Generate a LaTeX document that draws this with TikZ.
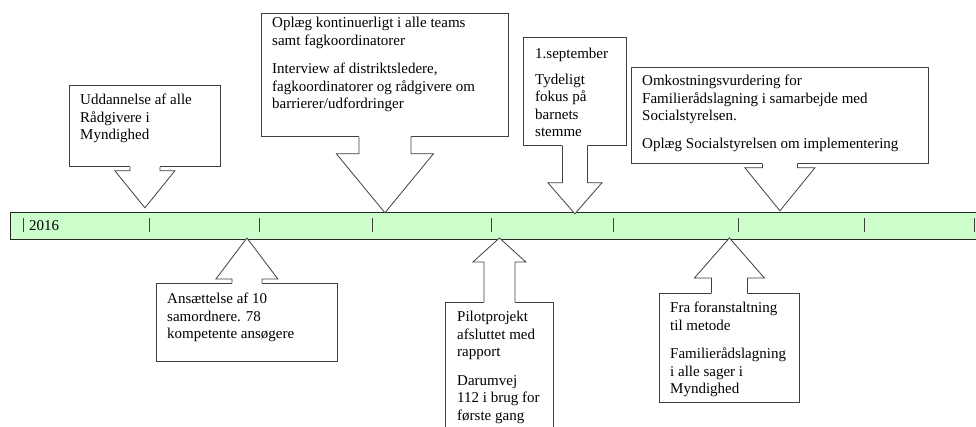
\documentclass[tikz,border=0pt]{standalone}
\usepackage{fontspec}
\setmainfont{Liberation Serif}
\definecolor{barfill}{HTML}{CCFFCC}
\definecolor{edge}{HTML}{404040}
% arrow below a box: node, neck half, shaft, head half, head length
\newcommand{\calldown}[5]{%
  \fill[white] ([xshift=-#2pt]#1.south) -- ++(0,-1.5) -- ++(2*#2,0) -- ++(0,1.5+#3)
    -- ++(#4-#2,0) -- ++(-#4,#5) -- ++(-#4,-#5) -- ++(#4-#2,0) -- cycle;
  \draw[callline] ([xshift=-#2pt]#1.south) -- ++(0,#3) -- ++(#2-#4,0)
    -- ++(#4,#5) coordinate (#1tip) -- ++(#4,-#5) -- ++(#2-#4,0) -- ++(0,-#3);
}
% arrow above a box
\newcommand{\callup}[5]{%
  \fill[white] ([xshift=-#2pt]#1.north) -- ++(0,1.5) -- ++(2*#2,0) -- ++(0,-1.5-#3)
    -- ++(#4-#2,0) -- ++(-#4,-#5) -- ++(-#4,#5) -- ++(#4-#2,0) -- cycle;
  \draw[callline] ([xshift=-#2pt]#1.north) -- ++(0,-#3) -- ++(#2-#4,0)
    -- ++(#4,-#5) coordinate (#1tip) -- ++(#4,#5) -- ++(#2-#4,0) -- ++(0,#3);
}
\begin{document}
\begin{tikzpicture}[x=1pt,y=-1pt,
  callbox/.style={draw=edge, fill=white, line width=0.8pt, inner sep=0pt, anchor=north west},
  callline/.style={draw=edge, line width=0.8pt},
  calltext/.style={anchor=north west, inner sep=0pt, align=left,
    font=\fontsize{15}{17.5}\selectfont},
  tick/.style={draw=edge, line width=0.9pt}]
\useasboundingbox (0,0) rectangle (976,426);
\clip (0,0) rectangle (976,426);

% timeline
\node[draw=black!85, fill=barfill, line width=0.8pt, inner sep=0pt, anchor=north west,
  minimum width=990pt, minimum height=27pt] (bar) at (10,212) {};
\foreach \x in {23,149,259,372,491,613,738,864,974}
  \draw[tick] (\x,218) -- (\x,232);
\node[anchor=west, inner sep=0pt, font=\fontsize{15}{17.5}\selectfont] (year) at (29,225.5) {2016};

% above the line
\node[callbox, minimum width=151pt, minimum height=81pt] (ud) at (69,85) {};
\calldown{ud}{15}{4}{30}{37}
\node[calltext] (udtext) at (80,94) {Uddannelse af alle\\Rådgivere i\\Myndighed};

\node[callbox, minimum width=247pt, minimum height=123pt] (op) at (261,13) {};
\calldown{op}{26}{17}{48.5}{59}
\node[calltext] (optext) at (272,17) {Oplæg kontinuerligt i alle teams\\samt fagkoordinatorer\\[11pt]
  Interview af distriktsledere,\\fagkoordinatorer og rådgivere om\\barrierer/udfordringer};

\node[callbox, minimum width=103pt, minimum height=108pt] (sep) at (523,37) {};
\calldown{sep}{12.5}{37}{27}{31}
\node[calltext] (septext) at (535,48) {1.september\\[8pt]Tydeligt\\fokus på\\barnets\\stemme};

\node[callbox, minimum width=297pt, minimum height=96pt] (om) at (631,67) {};
\calldown{om}{17.5}{4}{35}{43}
\node[calltext] (omtext) at (642,75) {Omkostningsvurdering for\\Familierådslagning i samarbejde med\\Socialstyrelsen.\\[10pt]
  Oplæg Socialstyrelsen om implementering};

% below the line
\node[callbox, minimum width=181pt, minimum height=78pt] (an) at (156,283) {};
\callup{an}{15}{4}{31}{41}
\node[calltext] (antext) at (167,293) {Ansættelse af 10\\samordnere. 78\\kompetente ansøgere};

\node[callbox, minimum width=108pt, minimum height=140pt] (pi) at (445,302) {};
\callup{pi}{15.5}{40}{26.5}{24}
\node[calltext] (pitext) at (457,311) {Pilotprojekt\\afsluttet med\\rapport\\[11pt]Darumvej\\112 i brug for\\første gang};

\node[callbox, minimum width=140pt, minimum height=109pt] (fr) at (659,293) {};
\callup{fr}{18}{15}{35}{40}
\node[calltext] (frtext) at (670,302) {Fra foranstaltning\\til metode\\[11pt]Familierådslagning\\i alle sager i\\Myndighed};
\end{tikzpicture}
\end{document}
